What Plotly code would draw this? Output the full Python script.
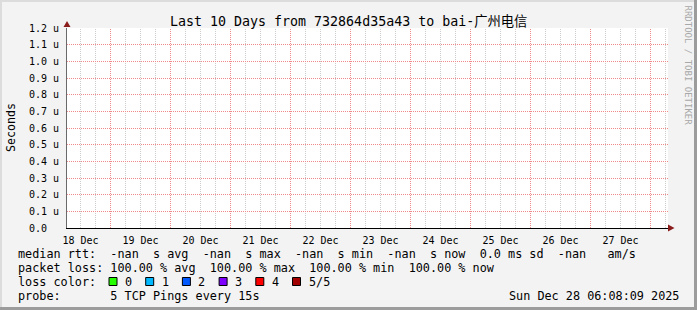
import plotly.graph_objects as go

# ---------------- data ----------------
sample_times = ["2025-12-18 06:08:09", "2025-12-19 06:08:09", "2025-12-20 06:08:09",
                "2025-12-21 06:08:09", "2025-12-22 06:08:09", "2025-12-23 06:08:09",
                "2025-12-24 06:08:09", "2025-12-25 06:08:09", "2025-12-26 06:08:09",
                "2025-12-27 06:08:09", "2025-12-28 06:08:09"]
median_rtt = [None, None, None, None, None, None, None, None, None, None, None]
packet_loss_pct = [100, 100, 100, 100, 100, 100, 100, 100, 100, 100, 100]

x_range = ["2025-12-18 06:36:00", "2025-12-28 07:00:00"]
day_boundaries = ["2025-12-19 00:00", "2025-12-20 00:00", "2025-12-21 00:00", "2025-12-22 00:00",
                  "2025-12-23 00:00", "2025-12-24 00:00", "2025-12-25 00:00", "2025-12-26 00:00",
                  "2025-12-27 00:00", "2025-12-28 00:00"]
x_label_dates = ["2025-12-18 12:00", "2025-12-19 12:00", "2025-12-20 12:00", "2025-12-21 12:00",
                 "2025-12-22 12:00", "2025-12-23 12:00", "2025-12-24 12:00", "2025-12-25 12:00",
                 "2025-12-26 12:00", "2025-12-27 12:00"]
x_tick_labels = ["18 Dec", "19 Dec", "20 Dec", "21 Dec", "22 Dec",
                 "23 Dec", "24 Dec", "25 Dec", "26 Dec", "27 Dec"]
six_hour_marks = ["2025-12-18 12:00", "2025-12-18 18:00",
                  "2025-12-19 06:00", "2025-12-19 12:00", "2025-12-19 18:00",
                  "2025-12-20 06:00", "2025-12-20 12:00", "2025-12-20 18:00",
                  "2025-12-21 06:00", "2025-12-21 12:00", "2025-12-21 18:00",
                  "2025-12-22 06:00", "2025-12-22 12:00", "2025-12-22 18:00",
                  "2025-12-23 06:00", "2025-12-23 12:00", "2025-12-23 18:00",
                  "2025-12-24 06:00", "2025-12-24 12:00", "2025-12-24 18:00",
                  "2025-12-25 06:00", "2025-12-25 12:00", "2025-12-25 18:00",
                  "2025-12-26 06:00", "2025-12-26 12:00", "2025-12-26 18:00",
                  "2025-12-27 06:00", "2025-12-27 12:00", "2025-12-27 18:00",
                  "2025-12-28 06:00"]

y_tick_vals = [0.0, 0.1e-6, 0.2e-6, 0.3e-6, 0.4e-6, 0.5e-6, 0.6e-6,
               0.7e-6, 0.8e-6, 0.9e-6, 1.0e-6, 1.1e-6, 1.2e-6]
y_tick_text = ["0.0  ", "0.1 u", "0.2 u", "0.3 u", "0.4 u", "0.5 u", "0.6 u",
               "0.7 u", "0.8 u", "0.9 u", "1.0 u", "1.1 u", "1.2 u"]
y_range = [0.0, 1.2e-6]

title_text = "Last 10 Days from 732864d35a43 to bai-广州电信"
median_stats = ["-nan", "-nan", "-nan", "-nan"]      # avg, max, min, now
median_stat_names = ["avg", "max", "min", "now"]
sd_text = "0.0 ms"
ams_text = "-nan"
loss_stats = ["100.00", "100.00", "100.00", "100.00"]  # avg, max, min, now
loss_labels = ["0", "1", "2", "3", "4", "5/5"]
loss_colors = ["#26ff00", "#00b8ff", "#0059ff", "#7e00ff", "#ff0000", "#a10000"]
probe_text = "5 TCP Pings every 15s"
timestamp_text = "Sun Dec 28 06:08:09 2025"
watermark = "RRDTOOL / TOBI OETIKER"

# ---------------- layout helpers ----------------
W, H = 697, 310
L, R, T, B = 67, 668, 28, 228
MONO = "DejaVu Sans Mono, Noto Sans CJK SC, monospace"


def px(x):
    return (x - L) / (R - L)


def py(y):
    return (B - y) / (B - T)


def nb(s):
    return s.replace(" ", "\u00a0")


fig = go.Figure()
fig.add_trace(go.Scatter(x=sample_times, y=median_rtt, mode="lines",
                         line=dict(color="#26ff00", width=2), showlegend=False,
                         hoverinfo="skip"))

red_grid = "#f08a8a"
gray_grid = "#cccccc"

fig.update_layout(
    width=W, height=H, autosize=False,
    margin=dict(l=L, r=W - R, t=T, b=H - B, pad=0),
    paper_bgcolor="#f3f3f3", plot_bgcolor="#ffffff",
    showlegend=False,
    xaxis=dict(type="date", range=x_range, tickmode="array", tickvals=x_label_dates,
               ticktext=x_tick_labels, ticks="", showgrid=False, zeroline=False,
               showline=True, linecolor="#000000", linewidth=1,
               tickfont=dict(family=MONO, size=10, color="#000000"),
               ticklabelstandoff=3),
    yaxis=dict(range=y_range, tickmode="array", tickvals=y_tick_vals,
               ticktext=[nb(t) for t in y_tick_text], ticks="",
               showgrid=True, gridcolor=red_grid, griddash="1px,1px", gridwidth=1,
               zeroline=False, showline=True, linecolor="#6a6a6a", linewidth=1,
               tickfont=dict(family=MONO, size=10, color="#000000"),
               ticklabelstandoff=5),
)

shapes = []
# vertical grid: gray every 6 hours, red at day boundaries (placed via x axis scale)
for t in six_hour_marks:
    shapes.append(dict(type="line", xref="x", yref="paper", x0=t, x1=t, y0=0, y1=1,
                       layer="below", line=dict(color=gray_grid, width=1, dash="1px,1px")))
for t in day_boundaries:
    shapes.append(dict(type="line", xref="x", yref="paper", x0=t, x1=t, y0=0, y1=1,
                       layer="below", line=dict(color=red_grid, width=1, dash="1px,1px")))

annotations = []
# title
annotations.append(dict(text=title_text, x=px(348.5), y=py(21.5), xref="paper", yref="paper",
                        xanchor="center", yanchor="middle", showarrow=False,
                        font=dict(family=MONO, size=13.3, color="#000000")))
# y axis title
annotations.append(dict(text="Seconds", x=px(10.5), y=py(127.5), xref="paper", yref="paper",
                        xanchor="center", yanchor="middle", showarrow=False, textangle=-90,
                        font=dict(family=MONO, size=11.6, color="#000000")))
# watermark
annotations.append(dict(text=watermark, x=px(687.5), y=py(65), xref="paper", yref="paper",
                        xanchor="center", yanchor="middle", showarrow=False, textangle=90,
                        font=dict(family=MONO, size=9, color="#a8a8a8")))

LEG_FONT = dict(family=MONO, size=11.8, color="#000000")
x0_leg = 15.5
line1 = "median rtt:  " + "  ".join(f"{v}  s {n}" for v, n in zip(median_stats, median_stat_names)) \
        + f"  {sd_text} sd  {ams_text}   am/s"
line2 = "packet loss: " + "  ".join(f"{v} % {n}" for v, n in zip(loss_stats, median_stat_names))
line3 = "loss color:"
line4 = "probe:       " + probe_text
for txt, yc in [(line1, 253.5), (line2, 268), (line3, 282), (line4, 296)]:
    annotations.append(dict(text=nb(txt), x=px(x0_leg), y=py(yc), xref="paper", yref="paper",
                            xanchor="left", yanchor="middle", showarrow=False, font=LEG_FONT))
annotations.append(dict(text=nb(timestamp_text), x=px(681), y=py(296), xref="paper", yref="paper",
                        xanchor="right", yanchor="middle", showarrow=False, font=LEG_FONT))

for i, (lab, col) in enumerate(zip(loss_labels, loss_colors)):
    bx = 109 + i * 36.7
    shapes.append(dict(type="rect", xref="paper", yref="paper",
                       x0=px(bx), x1=px(bx + 8), y0=py(285.5), y1=py(277.5),
                       fillcolor=col, line=dict(color="#000000", width=1)))
    annotations.append(dict(text=nb(lab), x=px(bx + 14), y=py(282), xref="paper", yref="paper",
                            xanchor="left", yanchor="middle", showarrow=False, font=LEG_FONT))

arrow_col = "#8b1c1c"
shapes.append(dict(type="path", xref="paper", yref="paper",
                   path=f"M {px(63.5)} {py(27)} L {px(70.5)} {py(27)} L {px(67)} {py(21)} Z",
                   fillcolor=arrow_col, line=dict(width=0)))
shapes.append(dict(type="path", xref="paper", yref="paper",
                   path=f"M {px(668)} {py(224.5)} L {px(668)} {py(231.5)} L {px(674.5)} {py(228)} Z",
                   fillcolor=arrow_col, line=dict(width=0)))
# frame
shapes.append(dict(type="rect", xref="paper", yref="paper", x0=px(0), x1=px(697), y0=py(0), y1=py(2),
                   fillcolor="#dcdcdc", line=dict(width=0)))
shapes.append(dict(type="rect", xref="paper", yref="paper", x0=px(0), x1=px(2), y0=py(0), y1=py(310),
                   fillcolor="#dcdcdc", line=dict(width=0)))
shapes.append(dict(type="rect", xref="paper", yref="paper", x0=px(694), x1=px(697), y0=py(0), y1=py(310),
                   fillcolor="#9c9c9c", line=dict(width=0)))
shapes.append(dict(type="rect", xref="paper", yref="paper", x0=px(0), x1=px(697), y0=py(307), y1=py(310),
                   fillcolor="#9c9c9c", line=dict(width=0)))

fig.update_layout(annotations=annotations, shapes=shapes)
fig.write_html("out.html")
